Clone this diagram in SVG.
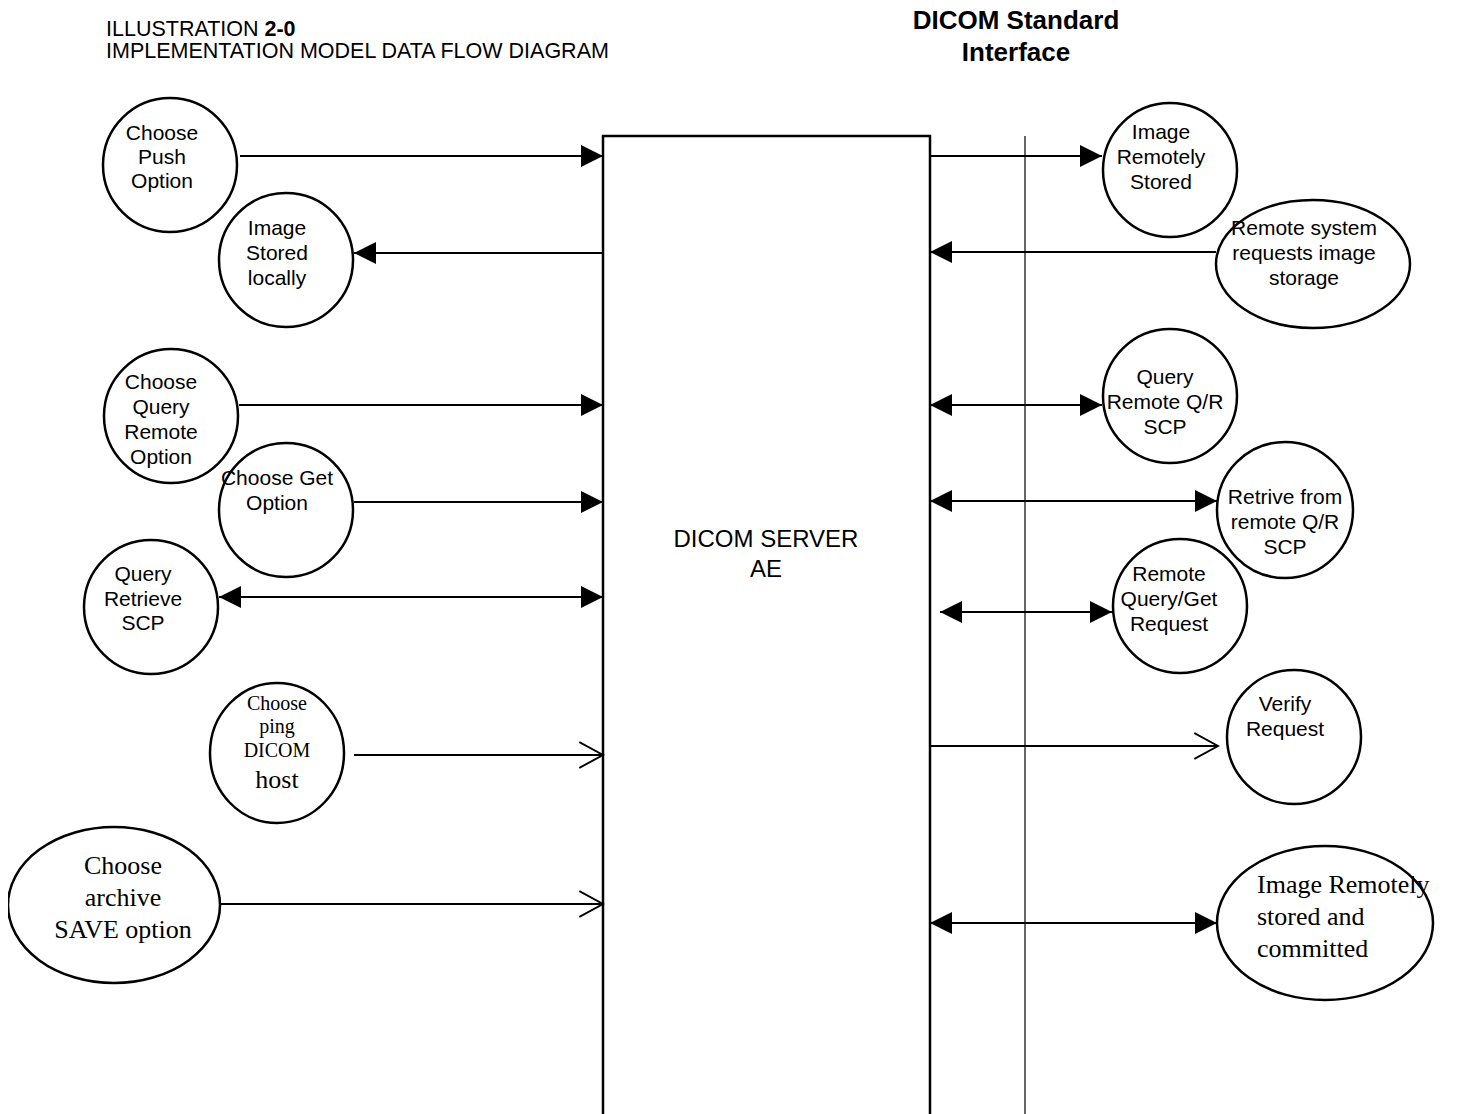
<svg xmlns="http://www.w3.org/2000/svg" width="1476" height="1114" viewBox="0 0 1476 1114">
<style>
  .bg { fill: #ffffff; }
  .node { fill: #ffffff; stroke: #000000; stroke-width: 2.5; }
  .lbl { font-family: "Liberation Sans", Arial, sans-serif; font-size: 21px; fill: #000000; text-anchor: middle; }
  .ser { font-family: "Liberation Serif", "Times New Roman", serif; fill: #000000; }
  .conn { stroke: #000000; stroke-width: 1.8; fill: none; }
  .box { fill: none; stroke: #000000; stroke-width: 2.5; }
  .sep { stroke: #000000; stroke-width: 1.2; }
  .hdr { font-family: "Liberation Sans", Arial, sans-serif; font-size: 21.5px; fill: #000000; }
  .title { font-family: "Liberation Sans", Arial, sans-serif; font-size: 26px; font-weight: bold; fill: #000000; text-anchor: middle; }
</style>
<defs>
  <marker id="fa" markerUnits="userSpaceOnUse" markerWidth="22" markerHeight="22" viewBox="0 0 20 20" refX="20" refY="10" orient="auto-start-reverse">
    <path d="M0,0 L20,10 L0,20 Z" fill="#000000"/>
  </marker>
  <marker id="oa" markerUnits="userSpaceOnUse" markerWidth="26" markerHeight="28" viewBox="0 0 24 26" refX="22" refY="13" orient="auto">
    <path d="M0,1 L22,13 L0,25" fill="none" stroke="#000000" stroke-width="1.8"/>
  </marker>
  <clipPath id="clipL"><rect x="8" y="0" width="1468" height="1114"/></clipPath>
</defs>
<rect class="bg" x="0" y="0" width="1476" height="1114"/>

<g id="header">
  <text class="hdr" x="106" y="36">ILLUSTRATION <tspan font-weight="bold">2-0</tspan></text>
  <text class="hdr" x="106" y="58">IMPLEMENTATION MODEL DATA FLOW DIAGRAM</text>
  <text class="title" x="1016" y="29">DICOM Standard</text>
  <text class="title" x="1016" y="61">Interface</text>
</g>

<g id="server">
  <path class="box" d="M603,1116 L603,136 L930,136 L930,1116"/>
  <text class="lbl" x="766" y="547" style="font-size:24px">DICOM SERVER</text>
  <text class="lbl" x="766" y="577" style="font-size:24px">AE</text>
</g>

<g id="interface-line">
  <line class="sep" x1="1025" y1="136" x2="1025" y2="1114"/>
</g>

<g id="connectors">
  <line class="conn" x1="240" y1="156" x2="603" y2="156" marker-end="url(#fa)"/>
  <line class="conn" x1="603" y1="253" x2="354" y2="253" marker-end="url(#fa)"/>
  <line class="conn" x1="239" y1="405" x2="603" y2="405" marker-end="url(#fa)"/>
  <line class="conn" x1="354" y1="502" x2="603" y2="502" marker-end="url(#fa)"/>
  <line class="conn" x1="219" y1="597" x2="603" y2="597" marker-start="url(#fa)" marker-end="url(#fa)"/>
  <line class="conn" x1="354" y1="755" x2="603" y2="755" marker-end="url(#oa)"/>
  <line class="conn" x1="220" y1="904" x2="603" y2="904" marker-end="url(#oa)"/>
  <line class="conn" x1="930" y1="156" x2="1102" y2="156" marker-end="url(#fa)"/>
  <line class="conn" x1="1216" y1="252" x2="930" y2="252" marker-end="url(#fa)"/>
  <line class="conn" x1="930" y1="405" x2="1102" y2="405" marker-start="url(#fa)" marker-end="url(#fa)"/>
  <line class="conn" x1="930" y1="501" x2="1217" y2="501" marker-start="url(#fa)" marker-end="url(#fa)"/>
  <line class="conn" x1="940" y1="612" x2="1112" y2="612" marker-start="url(#fa)" marker-end="url(#fa)"/>
  <line class="conn" x1="930" y1="746" x2="1218" y2="746" marker-end="url(#oa)"/>
  <line class="conn" x1="930" y1="923" x2="1217" y2="923" marker-start="url(#fa)" marker-end="url(#fa)"/>
</g>

<g id="choose-push">
  <circle class="node" cx="170" cy="165" r="67"/>
  <text class="lbl" x="162" y="140">Choose</text>
  <text class="lbl" x="162" y="164">Push</text>
  <text class="lbl" x="162" y="188">Option</text>
</g>

<g id="image-stored-locally">
  <circle class="node" cx="286" cy="260" r="67"/>
  <text class="lbl" x="277" y="235">Image</text>
  <text class="lbl" x="277" y="260">Stored</text>
  <text class="lbl" x="277" y="285">locally</text>
</g>

<g id="choose-query-remote">
  <circle class="node" cx="171" cy="416" r="67"/>
  <text class="lbl" x="161" y="389">Choose</text>
  <text class="lbl" x="161" y="414">Query</text>
  <text class="lbl" x="161" y="439">Remote</text>
  <text class="lbl" x="161" y="464">Option</text>
</g>

<g id="choose-get">
  <circle class="node" cx="286" cy="510" r="67"/>
  <text class="lbl" x="277" y="485">Choose Get</text>
  <text class="lbl" x="277" y="510">Option</text>
</g>

<g id="query-retrieve-scp">
  <circle class="node" cx="151" cy="607" r="67"/>
  <text class="lbl" x="143" y="581">Query</text>
  <text class="lbl" x="143" y="606">Retrieve</text>
  <text class="lbl" x="143" y="630">SCP</text>
</g>

<g id="choose-ping">
  <ellipse class="node" cx="277" cy="753" rx="67" ry="70"/>
  <text class="ser" x="277" y="710" font-size="20" text-anchor="middle">Choose</text>
  <text class="ser" x="277" y="733" font-size="20" text-anchor="middle">ping</text>
  <text class="ser" x="277" y="757" font-size="20" text-anchor="middle">DICOM</text>
  <text class="ser" x="277" y="788" font-size="26" text-anchor="middle">host</text>
</g>

<g id="choose-archive">
  <ellipse class="node" cx="114" cy="905" rx="106" ry="78" clip-path="url(#clipL)"/>
  <text class="ser" x="123" y="874" font-size="26" text-anchor="middle">Choose</text>
  <text class="ser" x="123" y="906" font-size="26" text-anchor="middle">archive</text>
  <text class="ser" x="123" y="938" font-size="26" text-anchor="middle">SAVE option</text>
</g>

<g id="image-remotely-stored">
  <circle class="node" cx="1170" cy="170" r="67"/>
  <text class="lbl" x="1161" y="139">Image</text>
  <text class="lbl" x="1161" y="164">Remotely</text>
  <text class="lbl" x="1161" y="189">Stored</text>
</g>

<g id="remote-system-requests">
  <ellipse class="node" cx="1313" cy="264" rx="97" ry="64"/>
  <text class="lbl" x="1304" y="235">Remote system</text>
  <text class="lbl" x="1304" y="260">requests image</text>
  <text class="lbl" x="1304" y="285">storage</text>
</g>

<g id="query-remote-qr">
  <circle class="node" cx="1170" cy="396" r="67"/>
  <text class="lbl" x="1165" y="384">Query</text>
  <text class="lbl" x="1165" y="409">Remote Q/R</text>
  <text class="lbl" x="1165" y="434">SCP</text>
</g>

<g id="retrive-remote-qr">
  <circle class="node" cx="1285" cy="510" r="68"/>
  <text class="lbl" x="1285" y="504">Retrive from</text>
  <text class="lbl" x="1285" y="529">remote Q/R</text>
  <text class="lbl" x="1285" y="554">SCP</text>
</g>

<g id="remote-query-get">
  <circle class="node" cx="1180" cy="606" r="67"/>
  <text class="lbl" x="1169" y="581">Remote</text>
  <text class="lbl" x="1169" y="606">Query/Get</text>
  <text class="lbl" x="1169" y="631">Request</text>
</g>

<g id="verify-request">
  <circle class="node" cx="1294" cy="737" r="67"/>
  <text class="lbl" x="1285" y="711">Verify</text>
  <text class="lbl" x="1285" y="736">Request</text>
</g>

<g id="image-remotely-committed">
  <ellipse class="node" cx="1325" cy="923" rx="108" ry="77"/>
  <text class="ser" x="1257" y="893" font-size="26">Image Remotely</text>
  <text class="ser" x="1257" y="925" font-size="26">stored and</text>
  <text class="ser" x="1257" y="957" font-size="26">committed</text>
</g>
</svg>
